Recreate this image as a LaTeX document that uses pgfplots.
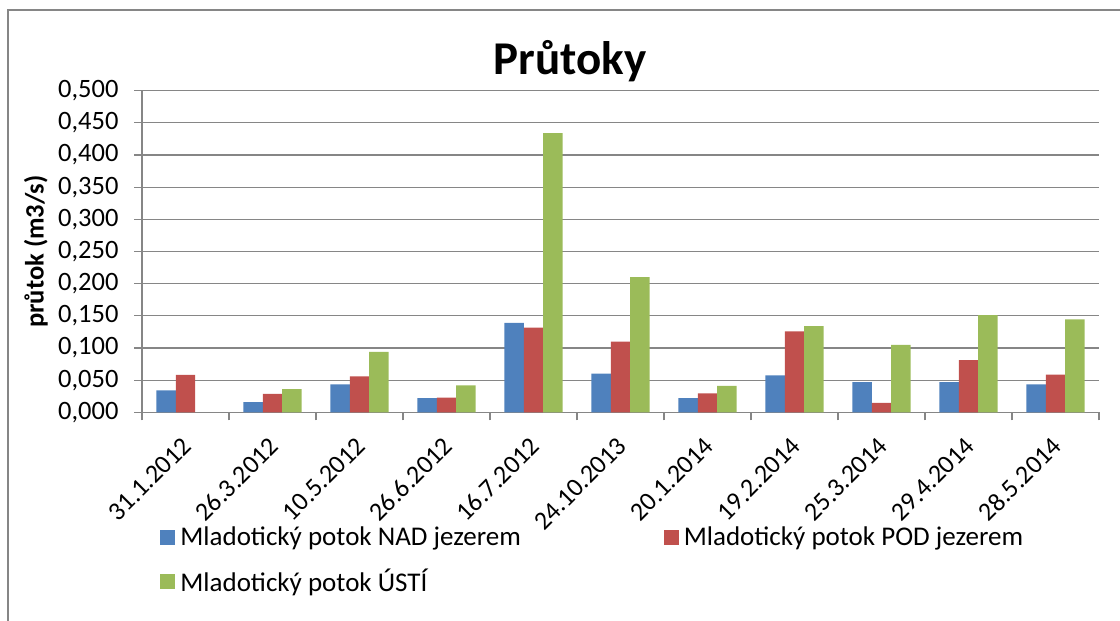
\documentclass[border=0pt]{standalone}
\usepackage{fontspec}
\setmainfont{Carlito}
\usepackage{pgfplots}
\pgfplotsset{compat=1.18}
\definecolor{gblue}{HTML}{4F81BD}
\definecolor{gred}{HTML}{C0504D}
\definecolor{ggreen}{HTML}{9BBB59}
\definecolor{axgray}{HTML}{868686}
\begin{document}
\begin{tikzpicture}
\path[use as bounding box] (0pt,0pt) rectangle (1120pt,621pt);
\draw[axgray, line width=1.2pt] (8pt,-5pt) -- (8pt,611pt) -- (1125pt,611pt);
\node[font=\fontsize{47}{50}\selectfont\bfseries, anchor=base] at (570pt,546pt) {Průtoky};
\begin{axis}[
  at={(142pt,208.7pt)}, anchor=south west,
  scale only axis, width=957pt, height=321.6pt,
  ymin=0, ymax=0.5,
  ytick={0,0.05,0.1,0.15,0.2,0.25,0.3,0.35,0.4,0.45,0.5},
  xmin=-0.5, xmax=10.5,
  xtick={0,1,2,3,4,5,6,7,8,9,10},
  xticklabels={31.1.2012,26.3.2012,10.5.2012,26.6.2012,16.7.2012,24.10.2013,20.1.2014,19.2.2014,25.3.2014,29.4.2014,28.5.2014},
  minor xtick={-0.5,0.5,1.5,2.5,3.5,4.5,5.5,6.5,7.5,8.5,9.5,10.5},
  axis x line*=bottom, axis y line*=left,
  axis line style={-, draw=axgray, line width=1.2pt},
  ymajorgrids, major grid style={axgray, line width=1.2pt},
  tick align=outside, major tick length=8pt, minor tick length=8pt,
  tick style={axgray, line width=1.2pt},
  major x tick style={draw=none},
  ybar=0pt, bar width=19.4pt,
  enlargelimits=false,
  scaled y ticks=false,
  yticklabel style={font=\fontsize{26.5}{28}\selectfont, anchor=east, xshift=-12pt,
    /pgf/number format/.cd, fixed, fixed zerofill, precision=3, use comma, assume math mode=true},
  xticklabel style={font=\fontsize{26}{28}\selectfont, xshift=4pt, yshift=-19pt, rotate=45, anchor=east},
  every axis y label/.style={at={(axis description cs:-0.1108,0.5)}, rotate=90, anchor=center, font=\fontsize{26.5}{28}\selectfont\bfseries},
  ylabel={průtok (m3/s)},
  legend columns=2,
  legend cell align=left,
  legend style={draw=none, fill=none, at={(axis description cs:0.019,-0.35)}, anchor=north west,
    font=\fontsize{27}{28}\selectfont, inner sep=0pt, row sep=18pt,
    /tikz/every odd column/.append style={column sep=3pt},
    /tikz/every even column/.append style={column sep=141pt}},
]
\addplot[fill=gblue, draw=none, legend image code/.code={\draw[fill=gblue,draw=none] (0pt,-7.5pt) rectangle (15pt,7.5pt);}] coordinates {
(0,0.034) (1,0.016) (2,0.0435) (3,0.022) (4,0.139) (5,0.060) (6,0.022) (7,0.0575) (8,0.047) (9,0.047) (10,0.0435)};
\addlegendentry{Mladotický potok NAD jezerem}
\addplot[fill=gred, draw=none, legend image code/.code={\draw[fill=gred,draw=none] (0pt,-7.5pt) rectangle (15pt,7.5pt);}] coordinates {
(0,0.058) (1,0.0285) (2,0.056) (3,0.023) (4,0.1315) (5,0.110) (6,0.0295) (7,0.126) (8,0.0145) (9,0.081) (10,0.0585)};
\addlegendentry{Mladotický potok POD jezerem}
\addplot[fill=ggreen, draw=none, legend image code/.code={\draw[fill=ggreen,draw=none] (0pt,-7.5pt) rectangle (15pt,7.5pt);}] coordinates {
(1,0.036) (2,0.094) (3,0.042) (4,0.434) (5,0.210) (6,0.041) (7,0.134) (8,0.105) (9,0.151) (10,0.1445)};
\addlegendentry{Mladotický potok ÚSTÍ}
\end{axis}
\end{tikzpicture}
\end{document}
